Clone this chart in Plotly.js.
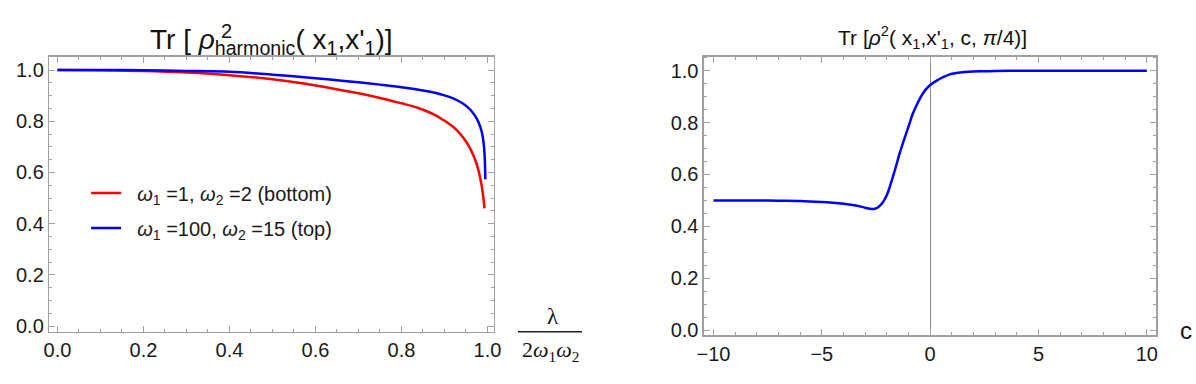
<!DOCTYPE html>
<html>
<head>
<meta charset="utf-8">
<script src="https://cdn.plot.ly/plotly-3.0.1.min.js"></script>
<style>
  body { margin: 0; background: #fff; }
  #chart { width: 1196px; height: 384px; }
</style>
</head>
<body>
<div id="chart"></div>
<script>
// left panel: lambda / (2 w1 w2) vs Tr rho^2
let lamRed = [0, 0.1, 0.2, 0.3, 0.4, 0.5, 0.6, 0.7, 0.75, 0.8, 0.825, 0.85, 0.875, 0.9, 0.925, 0.944, 0.958, 0.967, 0.975, 0.981, 0.986, 0.990, 0.993]
let trRed = [1.0, 0.999, 0.996, 0.990, 0.980, 0.964, 0.940, 0.909, 0.891, 0.870, 0.859, 0.845, 0.827, 0.802, 0.771, 0.735, 0.699, 0.667, 0.632, 0.594, 0.553, 0.508, 0.46]
let lamBlue = [0, 0.1, 0.2, 0.3, 0.4, 0.5, 0.6, 0.65, 0.7, 0.75, 0.8, 0.85, 0.88, 0.9, 0.92, 0.94, 0.955, 0.965, 0.975, 0.983, 0.988, 0.991, 0.993, 0.994, 0.995]
let trBlue = [1.0, 1.0, 0.999, 0.9965, 0.993, 0.982, 0.968, 0.960, 0.952, 0.943, 0.933, 0.920, 0.910, 0.901, 0.889, 0.872, 0.853, 0.835, 0.810, 0.779, 0.748, 0.715, 0.675, 0.64, 0.573]
let nameRed = '\u00a0\u00a0<i>ω</i><sub>1</sub> =1, <i>ω</i><sub>2</sub> =2 (bottom)'
let nameBlue = '\u00a0\u00a0<i>ω</i><sub>1</sub> =100, <i>ω</i><sub>2</sub> =15 (top)'

// right panel: c vs Tr rho^2 at pi/4
let cVals = [-10, -9, -8, -7, -6, -5, -4.5, -4, -3.5, -3.2, -3.0, -2.8, -2.6, -2.4, -2.2, -2.0, -1.8, -1.6, -1.4, -1.2, -1.0, -0.8, -0.6, -0.4, -0.2, 0, 0.3, 0.6, 0.9, 1.2, 1.6, 2.0, 2.5, 3, 4, 5, 6, 8, 10]
let trC = [0.500, 0.500, 0.500, 0.499, 0.498, 0.494, 0.491, 0.487, 0.481, 0.476, 0.472, 0.468, 0.467, 0.474, 0.491, 0.521, 0.570, 0.625, 0.684, 0.735, 0.785, 0.835, 0.872, 0.904, 0.928, 0.945, 0.962, 0.975, 0.986, 0.991, 0.995, 0.997, 0.998, 0.999, 1.0, 1.0, 1.0, 1.0, 1.0]

let font = 'Arial, "Liberation Sans", sans-serif'
let serif = '"Times New Roman", "Liberation Serif", serif'
let frame = '#a0a0a0'

let trace1 = {
  x: lamRed, y: trRed, type: 'scatter', mode: 'lines',
  name: nameRed, legendgroup: 'a',
  line: {color: '#ff0000', width: 2.5, shape: 'spline'},
  xaxis: 'x', yaxis: 'y'
}
let trace2 = {
  x: lamBlue, y: trBlue, type: 'scatter', mode: 'lines',
  name: nameBlue, legendgroup: 'b',
  line: {color: '#0000ff', width: 2.5, shape: 'spline'},
  xaxis: 'x', yaxis: 'y'
}
let trace3 = {
  x: cVals, y: trC, type: 'scatter', mode: 'lines',
  showlegend: false,
  line: {color: '#0000ff', width: 2.5, shape: 'spline'},
  xaxis: 'x2', yaxis: 'y2'
}

function frameAxis (extra) {
  let ax = {
    showline: true, linecolor: frame, linewidth: 1.5, mirror: 'allticks',
    ticks: 'inside', ticklen: 6, tickwidth: 1, tickcolor: frame,
    showgrid: false, zeroline: false,
    tickfont: {family: font, size: 20, color: '#1a1a1a'},
    fixedrange: true
  }
  return Object.assign(ax, extra)
}

let layout = {
  width: 1196,
  height: 384,
  margin: {l: 0, r: 0, t: 0, b: 0},
  paper_bgcolor: '#fff',
  plot_bgcolor: '#fff',
  showlegend: true,
  legend: {
    x: 0.072, y: 0.548, xanchor: 'left', yanchor: 'top',
    bgcolor: 'rgba(0,0,0,0)',
    font: {family: font, size: 20, color: '#1a1a1a'},
    tracegroupgap: 6
  },
  xaxis: frameAxis({
    domain: [0.0412, 0.413], range: [-0.019, 1.015],
    tickvals: [0, 0.2, 0.4, 0.6, 0.8, 1.0], ticktext: ['0.0', '0.2', '0.4', '0.6', '0.8', '1.0'],
    minor: {ticks: 'inside', ticklen: 3, dtick: 0.05, tick0: 0, tickcolor: frame},
    anchor: 'y'
  }),
  yaxis: frameAxis({
    domain: [0.1362, 0.8523], range: [-0.022, 1.052],
    tickvals: [0, 0.2, 0.4, 0.6, 0.8, 1.0], ticktext: ['0.0', '0.2', '0.4', '0.6', '0.8', '1.0'],
    minor: {ticks: 'inside', ticklen: 3, dtick: 0.05, tick0: 0, tickcolor: frame},
    anchor: 'x'
  }),
  xaxis2: frameAxis({
    domain: [0.5886, 0.9669], range: [-10.44, 10.44],
    tickvals: [-10, -5, 0, 5, 10],
    minor: {ticks: 'inside', ticklen: 3, dtick: 1, tick0: 0, tickcolor: frame},
    zeroline: true, zerolinecolor: '#8c8c8c', zerolinewidth: 1,
    anchor: 'y2'
  }),
  yaxis2: frameAxis({
    domain: [0.1268, 0.8523], range: [-0.020, 1.054],
    tickvals: [0, 0.2, 0.4, 0.6, 0.8, 1.0], ticktext: ['0.0', '0.2', '0.4', '0.6', '0.8', '1.0'],
    minor: {ticks: 'inside', ticklen: 3, dtick: 0.05, tick0: 0, tickcolor: frame},
    anchor: 'x2'
  }),
  shapes: [
    // fraction bar of the left x label
    {type: 'line', xref: 'paper', yref: 'paper', x0: 0.4331, x1: 0.4866, y0: 0.1362, y1: 0.1362,
      line: {color: '#222', width: 1.5}}
  ],
  annotations: [
    {xref: 'paper', yref: 'paper', x: 0.2274, y: 0.892, xanchor: 'center', yanchor: 'middle', showarrow: false,
      text: 'Tr [ <i>ρ</i><sub>harmonic</sub>( x<sub>1</sub>,x\'<sub>1</sub>)]',
      font: {family: font, size: 28, color: '#111'}},
    // the squared sign sits above the harmonic subscript
    {xref: 'paper', yref: 'paper', x: 0.1835, y: 0.92, xanchor: 'left', yanchor: 'middle', showarrow: false,
      text: '2', font: {family: font, size: 20, color: '#111'}},
    {xref: 'paper', yref: 'paper', x: 0.780, y: 0.902, xanchor: 'center', yanchor: 'middle', showarrow: false,
      text: 'Tr [<i>ρ</i><sup>2</sup>( x<sub>1</sub>,x\'<sub>1</sub>, c, <i>π</i>/4)]',
      font: {family: font, size: 21, color: '#111'}},
    {xref: 'paper', yref: 'paper', x: 0.4624, y: 0.177, xanchor: 'center', yanchor: 'middle', showarrow: false,
      text: 'λ', font: {family: serif, size: 23, color: '#111'}},
    {xref: 'paper', yref: 'paper', x: 0.4605, y: 0.085, xanchor: 'center', yanchor: 'middle', showarrow: false,
      text: '2<i>ω</i><sub>1</sub><i>ω</i><sub>2</sub>', font: {family: serif, size: 22, color: '#111'}},
    {xref: 'paper', yref: 'paper', x: 0.9916, y: 0.1406, xanchor: 'center', yanchor: 'middle', showarrow: false,
      text: 'c', font: {family: font, size: 24, color: '#111'}}
  ]
}

Plotly.newPlot('chart', [trace1, trace2, trace3], layout, {displayModeBar: false, staticPlot: true})
</script>
</body>
</html>
